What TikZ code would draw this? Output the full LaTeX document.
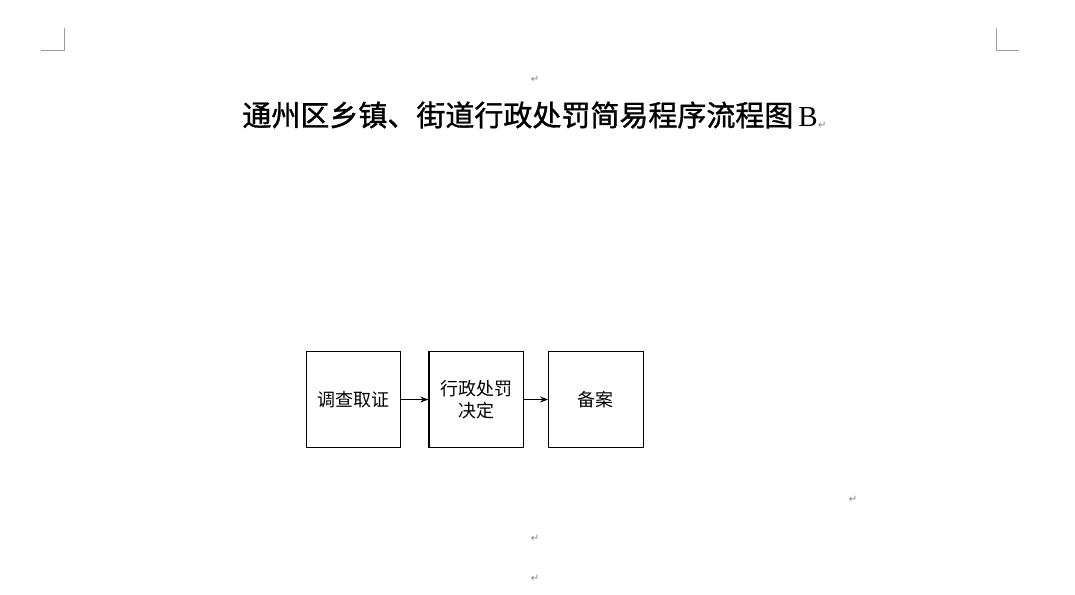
\documentclass[tikz,border=0pt]{standalone}
\usepackage{fontspec}
\setmainfont{Liberation Serif}
\newfontfamily\cjk{Noto Sans CJK SC}
\newfontfamily\cjktitle[FakeBold=1.2]{Noto Sans CJK SC}
\newfontfamily\symfont{DejaVu Sans}
\usetikzlibrary{arrows, arrows.meta, positioning}
\definecolor{markgray}{RGB}{130, 130, 130}
\tikzstyle{stepbox} = [rectangle, minimum width=94.5pt, minimum height=96pt, text centered, align=center, draw=black, line width=1.2pt, font=\cjk\fontsize{18}{22}\selectfont]
\tikzstyle{arrow} = [line width=1pt,-{Stealth[length=8pt, width=6pt]}]
\tikzstyle{pmark} = [inner sep=0pt, text=markgray, font=\symfont\fontsize{10}{10}\selectfont]
\tikzstyle{corner} = [markgray!80, line width=1pt]

\begin{document}
\begin{tikzpicture}[x=1pt, y=-1pt]
\useasboundingbox (0,0) rectangle (1075,594);

% Page corners
\draw [corner] (41,51) -- (64,51) -- (64,28);
\draw [corner] (1019,51) -- (996,51) -- (996,28);

% Title
\node (mark1) [pmark] at (535,79) {↵};
\node (title) at (530,115) [inner sep=0pt, font=\cjktitle\fontsize{29}{29}\selectfont] {通州区乡镇、街道行政处罚简易程序流程图\,{\rmfamily B}};
\node (mark2) [pmark, right=0pt of title.south east, anchor=south west] {↵};

% Flow
\node (survey) [stepbox] at (353.5,399.5) {调查取证};
\node (decide) [stepbox, right=27pt of survey] {行政处罚\\决定};
\node (record) [stepbox, right=24pt of decide] {备案};

% Arrows
\draw [arrow] (survey) -- (decide);
\draw [arrow] (decide) -- (record);

% Empty paragraphs
\node (mark3) [pmark] at (853,499) {↵};
\node (mark4) [pmark] at (535,538) {↵};
\node (mark5) [pmark] at (535,578) {↵};

\end{tikzpicture}
\end{document}
